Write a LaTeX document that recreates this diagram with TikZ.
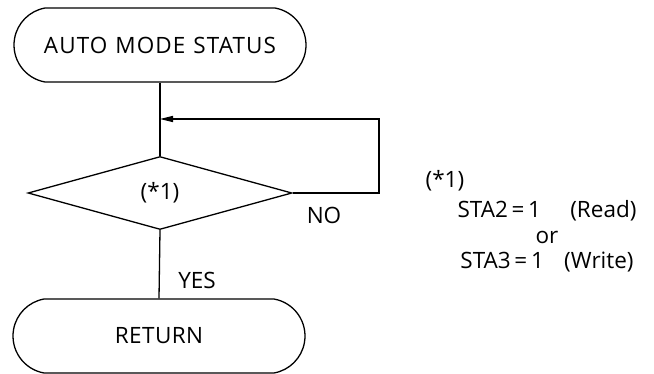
\documentclass[tikz,border=0pt]{standalone}
\usepackage{fontspec}
\setmainfont{Open Sans}
\usetikzlibrary{shapes.geometric,shapes.misc,arrows.meta}
\begin{document}
\begin{tikzpicture}[x=1pt,y=-1pt,line width=1.3pt,
        terminal/.style={rounded rectangle, rounded rectangle arc length=160, draw, minimum width=292pt, minimum height=74pt, inner sep=0pt},
        decision/.style={diamond, draw, minimum width=264pt, minimum height=73pt, inner sep=0pt},
        lbl/.style={inner sep=0pt, anchor=base},
        every node/.style={font=\fontsize{22.5}{26}\selectfont}]
        \useasboundingbox (0,0) rectangle (654,373);

        % flow
        \node[terminal] (start) at (160,45) {\addfontfeature{LetterSpace=5}AUTO\hspace{0.35em}MODE\hspace{0.35em}STATUS};
        \node[decision] (test) at (160,193) {(*1)};
        \node[terminal] (ret) at (159,336) {\addfontfeature{LetterSpace=2}RETURN};
        \coordinate (join) at (160,119);
        \coordinate (loop) at (379,119);

        \draw (start.south) -- (test.north);
        \draw[-{Triangle[length=13pt,width=6pt]}] (test.east) -| (loop) -- (join);
        \draw (test.south) -- (ret.north);

        \node[lbl] (no) at (324,223) {NO};
        \node[lbl] (yes) at (197,288) {YES};

        % note
        \node[lbl, anchor=base west] (note) at (425,187) {(*1)};
        \node[lbl] (cond1) at (547,217) {STA2\,=\,1\hspace{1.3em}(Read)};
        \node[lbl] (orword) at (547,243) {or};
        \node[lbl] (cond2) at (547,268) {STA3\,=\,1\hspace{0.9em}(Write)};
\end{tikzpicture}
\end{document}
